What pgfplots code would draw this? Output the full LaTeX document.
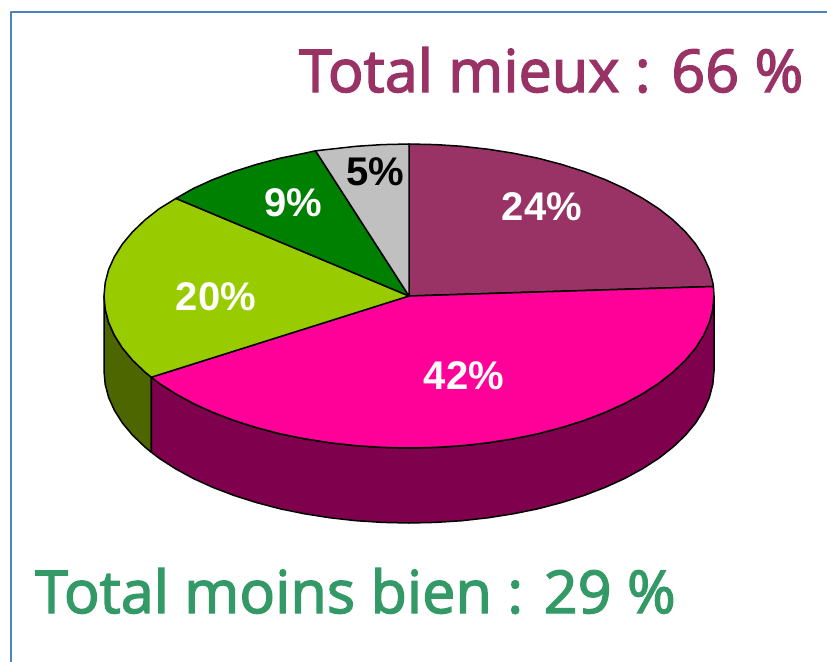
\documentclass[border=0pt]{standalone}
\usepackage{pgfplots}
\pgfplotsset{compat=1.18}
\usepackage{fontspec}
\setmainfont{Liberation Sans}
\newfontfamily\headfont[FakeBold=2.5,LetterSpace=0.4]{Open Sans}
\definecolor{frameblue}{HTML}{4F81BD}
\definecolor{plum}{HTML}{993366}
\definecolor{hotpink}{HTML}{FF0099}
\definecolor{lime}{HTML}{99CC00}
\definecolor{dgreen}{HTML}{008000}
\definecolor{lgray}{HTML}{C0C0C0}
\definecolor{plumdark}{HTML}{7F004D}
\definecolor{olive}{HTML}{4D6600}
\definecolor{seagreen}{HTML}{339966}
\begin{document}
\begin{tikzpicture}
\begin{axis}[
  scale only axis, width=827bp, height=662bp,
  xmin=0, xmax=827, ymin=0, ymax=662, y dir=reverse,
  hide axis, clip=true, clip mode=individual,
  every axis plot/.append style={line join=round},
]
% page extent
\addplot[draw=none, no markers] coordinates {(0,0)(827,662)};
% frame (open on the right and at the bottom)
\addplot[frameblue, line width=2.2bp, no markers] coordinates {(827,12)(11,12)(11,662)};
% rim
\addplot[fill=olive, draw=black, line width=1.5bp, no markers] coordinates {
 (151.3,377.2)(144.9,372)(132.6,360.2)(122.4,348)(114.4,335.3)(108.6,322.4)(105.2,309.3)(104,296)
 (104,371)(105.2,384.3)(108.6,397.4)(114.4,410.3)(122.4,423)(132.6,435.2)(144.9,447)(151.3,452.2)} --cycle;
\addplot[fill=plumdark, draw=black, line width=1.5bp, no markers] coordinates {
 (714,296)(712.8,309.3)(709.4,322.4)(703.6,335.3)(695.6,348)(685.4,360.2)(673.1,372)(658.9,383.2)(642.6,393.7)(624.7,403.5)(605.1,412.4)(583.9,420.5)(561.5,427.6)(537.9,433.8)(513.3,438.8)(487.9,442.8)(461.9,445.7)(435.6,447.4)(409,448)(382.4,447.4)(356.1,445.7)(330.1,442.8)(304.7,438.8)(280.1,433.8)(256.5,427.6)(234.1,420.5)(212.9,412.4)(193.3,403.5)(175.4,393.7)(159.1,383.2)(151.3,377.2)
 (151.3,452.2)(159.1,458.2)(175.4,468.7)(193.3,478.5)(212.9,487.4)(234.1,495.5)(256.5,502.6)(280.1,508.8)(304.7,513.8)(330.1,517.8)(356.1,520.7)(382.4,522.4)(409,523)(435.6,522.4)(461.9,520.7)(487.9,517.8)(513.3,513.8)(537.9,508.8)(561.5,502.6)(583.9,495.5)(605.1,487.4)(624.7,478.5)(642.6,468.7)(658.9,458.2)(673.1,447)(685.4,435.2)(695.6,423)(703.6,410.3)(709.4,397.4)(712.8,384.3)(714,371)} --cycle;
% top: 24%
\addplot[fill=plum, draw=black, line width=1.5bp, no markers] coordinates {
 (409,296)(409,144)(435.6,144.6)(461.9,146.3)(487.9,149.2)(513.3,153.2)(537.9,158.2)(561.5,164.4)(583.9,171.5)(605.1,179.6)(624.7,188.5)(642.6,198.3)(658.9,208.8)(673.1,220)(685.4,231.8)(695.6,244)(703.6,256.7)(709.4,269.6)(712.8,282.7)(713.4,286.5)} --cycle;
% top: 42%
\addplot[fill=hotpink, draw=black, line width=1.5bp, no markers] coordinates {
 (409,296)(713.4,286.5)(714,296)(712.8,309.3)(709.4,322.4)(703.6,335.3)(695.6,348)(685.4,360.2)(673.1,372)(658.9,383.2)(642.6,393.7)(624.7,403.5)(605.1,412.4)(583.9,420.5)(561.5,427.6)(537.9,433.8)(513.3,438.8)(487.9,442.8)(461.9,445.7)(435.6,447.4)(409,448)(382.4,447.4)(356.1,445.7)(330.1,442.8)(304.7,438.8)(280.1,433.8)(256.5,427.6)(234.1,420.5)(212.9,412.4)(193.3,403.5)(175.4,393.7)(159.1,383.2)(151.3,377.2)} --cycle;
% top: 20%
\addplot[fill=lime, draw=black, line width=1.5bp, no markers] coordinates {
 (409,296)(151.3,377.2)(144.9,372)(132.6,360.2)(122.4,348)(114.4,335.3)(108.6,322.4)(105.2,309.3)(104,296)(105.2,282.7)(108.6,269.6)(114.4,256.7)(122.4,244)(132.6,231.8)(144.9,220)(159.1,208.8)(176,198.4)} --cycle;
% top: 9%
\addplot[fill=dgreen, draw=black, line width=1.5bp, no markers] coordinates {
 (409,296)(176,198.4)(193.3,188.5)(212.9,179.6)(234.1,171.5)(256.5,164.4)(280.1,158.2)(304.7,153.2)(315.5,150.8)} --cycle;
% top: 5%
\addplot[fill=lgray, draw=black, line width=1.5bp, no markers] coordinates {
 (409,296)(315.5,150.8)(330.1,149.2)(356.1,146.3)(382.4,144.6)(409,144)} --cycle;
% labels
\node[white, font=\fontsize{40bp}{40bp}\selectfont\bfseries] at (axis cs:542,207) {24\%};
\node[white, font=\fontsize{40bp}{40bp}\selectfont\bfseries] at (axis cs:464,376) {42\%};
\node[white, font=\fontsize{40bp}{40bp}\selectfont\bfseries] at (axis cs:216,297) {20\%};
\node[white, font=\fontsize{40bp}{40bp}\selectfont\bfseries] at (axis cs:293,203) {9\%};
\node[black, font=\fontsize{40bp}{40bp}\selectfont\bfseries] at (axis cs:375.5,172) {5\%};
\node[plum, anchor=base west, inner sep=0pt, font=\fontsize{59bp}{59bp}\headfont] at (axis cs:299,92) {Total mieux : 66 \%};
\node[seagreen, anchor=base west, inner sep=0pt, font=\fontsize{59bp}{59bp}\headfont] at (axis cs:35,613) {Total moins bien : 29 \%};
\end{axis}
\end{tikzpicture}
\end{document}
